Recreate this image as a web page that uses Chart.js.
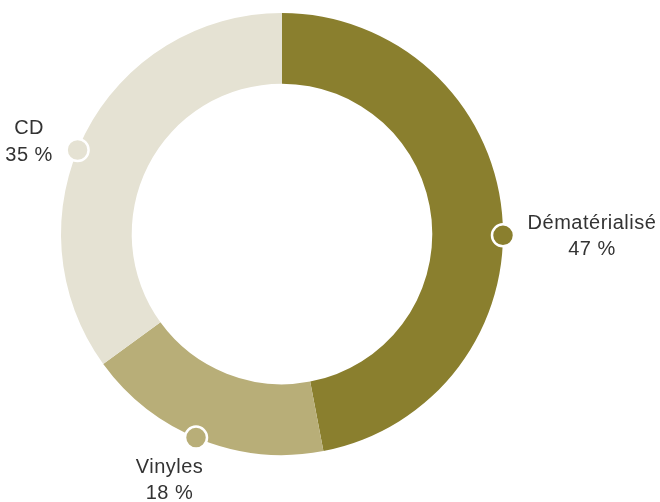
<!DOCTYPE html>
<html>
<head>
<meta charset="utf-8">
<script src="https://cdn.jsdelivr.net/npm/chart.js@4/dist/chart.umd.min.js"></script>
<style>
  html, body { margin: 0; padding: 0; background: #ffffff; }
  #wrap { width: 660px; height: 502px; }
</style>
</head>
<body>
<div id="wrap"><canvas id="c" width="660" height="502"></canvas></div>
<script>
// ---- data ----
const categories = ["Dématérialisé", "Vinyles", "CD"];
const shares = [47, 18, 35];
const valueLabels = ["47 %", "18 %", "35 %"];
const colors = ["#8a7f2e", "#b8ae78", "#e5e2d3"];

// ---- label / marker plugin ----
const markerLabels = {
  id: "markerLabels",
  afterDraw(chart, args, opts) {
    const ctx = chart.ctx;
    const meta = chart.getDatasetMeta(0);
    meta.data.forEach((arc, i) => {
      const p = opts.items[i];
      const a = arc.startAngle + p.frac * (arc.endAngle - arc.startAngle);
      const r = arc.outerRadius;
      const mx = arc.x + r * Math.cos(a);
      const my = arc.y + r * Math.sin(a);
      // marker
      ctx.save();
      ctx.beginPath();
      ctx.arc(mx, my, opts.markerRadius, 0, Math.PI * 2);
      ctx.fillStyle = colors[i];
      ctx.fill();
      ctx.lineWidth = opts.markerBorder;
      ctx.strokeStyle = "#ffffff";
      ctx.stroke();
      // text
      ctx.fillStyle = opts.color;
      ctx.font = opts.font;
      if ("letterSpacing" in ctx) ctx.letterSpacing = opts.letterSpacing;
      ctx.textAlign = "center";
      ctx.textBaseline = "alphabetic";
      const tx = mx + p.dx;
      const ty = my + p.dy;
      ctx.fillText(categories[i], tx, ty);
      ctx.fillText(valueLabels[i], tx, ty + opts.lineHeight);
      ctx.restore();
    });
  }
};

new Chart(document.getElementById("c"), {
  type: "doughnut",
  data: {
    labels: categories,
    datasets: [{
      data: shares,
      backgroundColor: colors,
      borderWidth: 0,
      hoverOffset: 0
    }]
  },
  options: {
    responsive: false,
    animation: false,
    cutout: "68%",
    layout: { padding: { left: 61, right: 157, top: 13, bottom: 47 } },
    plugins: {
      legend: { display: false },
      tooltip: { enabled: false },
      markerLabels: {
        markerRadius: 11,
        markerBorder: 2.5,
        color: "#333333",
        font: "20px 'Liberation Sans', Arial, sans-serif",
        letterSpacing: "0.5px",
        lineHeight: 26.5,
        items: [
          { frac: 0.534, dx: 89, dy: -6.5 },
          { frac: 0.52, dx: -26.5, dy: 35 },
          { frac: 0.463, dx: -48.5, dy: -16 }
        ]
      }
    }
  },
  plugins: [markerLabels]
});
</script>
</body>
</html>
